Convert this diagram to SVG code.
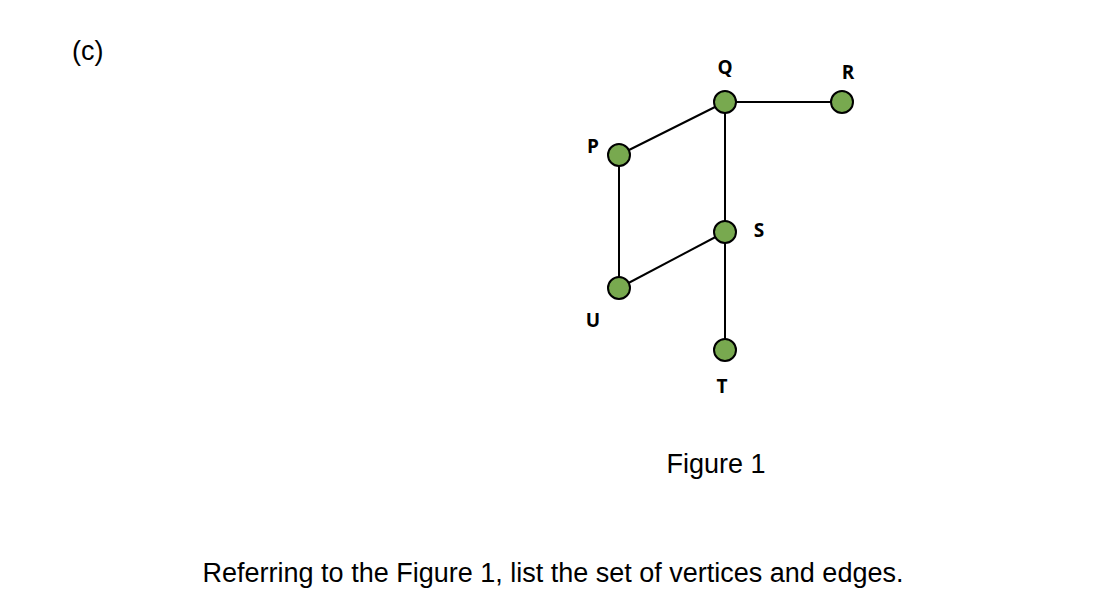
<svg xmlns="http://www.w3.org/2000/svg" width="1120" height="606" viewBox="0 0 1120 606">
<style>
.n{fill:#78a94f;stroke:#000;stroke-width:2}
.l{font-family:"Open Sans","Liberation Sans",sans-serif;font-weight:bold;font-size:19px;text-anchor:middle}
.t{font-family:"Liberation Sans",Arial,sans-serif;font-size:27px}
.e{stroke:#000;stroke-width:2;fill:none}
</style>
<rect width="1120" height="606" fill="#fff"/>
<text class="t" x="72" y="60">(c)</text>
<g id="edges">
<line class="e" x1="725" y1="102" x2="842" y2="102"/>
<line class="e" x1="725" y1="102" x2="619" y2="155"/>
<line class="e" x1="725" y1="102" x2="725" y2="350"/>
<line class="e" x1="619" y1="155" x2="619" y2="288"/>
<line class="e" x1="619" y1="288" x2="725" y2="232"/>
</g>
<g id="Q"><circle class="n" cx="725" cy="102" r="11"/><text class="l" x="725" y="74">Q</text></g>
<g id="R"><circle class="n" cx="842" cy="102" r="11"/><text class="l" x="848" y="79">R</text></g>
<g id="P"><circle class="n" cx="619" cy="155" r="11"/><text class="l" x="593" y="153">P</text></g>
<g id="S"><circle class="n" cx="725" cy="232" r="11"/><text class="l" x="759" y="237">S</text></g>
<g id="U"><circle class="n" cx="619" cy="288" r="11"/><text class="l" x="593" y="327">U</text></g>
<g id="T"><circle class="n" cx="725" cy="350" r="11"/><text class="l" x="722" y="393">T</text></g>
<text class="t" x="716" y="473" text-anchor="middle">Figure 1</text>
<text class="t" x="553" y="582" text-anchor="middle">Referring to the Figure 1, list the set of vertices and edges.</text>
</svg>
